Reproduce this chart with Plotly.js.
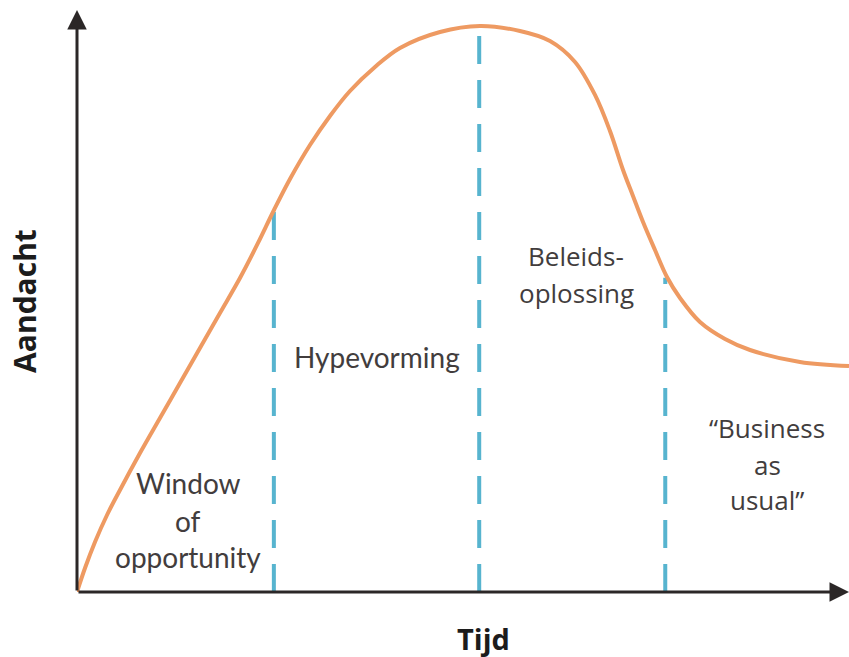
<!DOCTYPE html>
<html><head><meta charset="utf-8">
<script src="https://cdn.plot.ly/plotly-3.0.1.min.js"></script>
<style>html,body{margin:0;padding:0;background:#fff}</style>
</head><body><div id="chart" style="width:849px;height:657px"></div>
<script>
// Attention curve (time 0-100, attention 0-100)
const timeX = [0,1.04,2.33,3.89,5.57,8.16,10.75,13.34,15.93,18.52,21.11,23.45,25.52,27.59,30.18,32.77,35.36,38.60,41.84,47.02,52.20,57.38,61.27,64.51,67.10,69.04,70.73,72.02,73.32,74.87,76.42,78.11,80.70,83.94,87.18,93.65,100];
const attention = [0,4.12,8.59,13.23,17.53,23.88,29.90,35.91,41.92,47.94,53.95,59.97,65.64,70.96,76.80,81.79,86.08,90.21,93.47,96.22,97.25,96.39,94.67,91.07,85.40,79.21,72.51,68.04,63.57,58.76,54.12,50.52,46.39,43.47,41.58,39.52,38.83];

// Phase boundaries (dashed lines)
const phaseX = [25.5, 52.1, 76.2];
const phaseTop = [66.0, 97.1, 54.0];

// Phase labels (one entry per line)
const phaseLabels = [
  ["Window", "of", "opportunity"],
  ["Hypevorming"],
  ["Beleids-", "oplossing"],
  ["\u201cBusiness", "as", "usual\u201d"]
];
const xTitle = "Tijd";
const yTitle = "Aandacht";

// ---- layout helpers (pixel -> data, figure is fixed 849x657) ----
const L = 77, T = 10, B = 65, W = 849, H = 657;
const pw = W - L, ph = H - T - B;
const PX = v => (v - L) / pw * 100;
const PY = v => (H - B - v) / ph * 100;

const traces = [];
phaseX.forEach((x, i) => {
  traces.push({
    x: [x, x], y: [0, phaseTop[i]], mode: 'lines', hoverinfo: 'skip',
    line: {color: '#57b4cf', width: 4, dash: '28px,16px'}
  });
});
traces.push({
  x: timeX, y: attention, mode: 'lines',
  line: {color: '#ee9a62', width: 4, shape: 'spline', smoothing: 1}
});

// label placement (pixel centres)
const labelPos = [
  {x: 188, ys: [483, 521, 557], font: 'Lato', size: 28},
  {x: 377, ys: [357], font: 'Lato', size: 28},
  {x: 576, ys: [256, 293], font: 'Open Sans', size: 26},
  {x: 767, ys: [428, 465, 500], font: 'Open Sans', size: 26}
];
const annotations = [];
phaseLabels.forEach((lines, i) => {
  const p = labelPos[i];
  lines.forEach((t, j) => {
    annotations.push({
      x: PX(p.x), y: PY(p.ys[j]), xref: 'x', yref: 'y', text: t, showarrow: false,
      xanchor: 'center', yanchor: 'middle',
      font: {family: p.font, size: p.size, color: '#423d3d'}
    });
  });
});
// x axis title (placed below the axis, slightly right of centre as in the original)
annotations.push({x: PX(483), y: (H - B - 638) / ph, xref: 'x', yref: 'paper', text: xTitle,
  showarrow: false, xanchor: 'center', yanchor: 'middle',
  font: {family: 'Open Sans', size: 29, color: '#1c1c1c', weight: 700}});
// axis arrows
annotations.push({x: 100, y: 0, ax: 0, ay: 0, xref: 'x', yref: 'y', axref: 'x', ayref: 'y',
  text: '', showarrow: true, arrowhead: 2, arrowsize: 1.3, arrowwidth: 3, arrowcolor: '#2b2727'});
annotations.push({x: 0, y: 100, ax: 0, ay: 0, xref: 'x', yref: 'y', axref: 'x', ayref: 'y',
  text: '', showarrow: true, arrowhead: 2, arrowsize: 1.3, arrowwidth: 3, arrowcolor: '#2b2727'});

const axisCommon = {range: [0, 100], showgrid: false, zeroline: false, showline: false,
  showticklabels: false, ticks: '', fixedrange: true};
const layout = {
  width: W, height: H, margin: {l: L, r: 0, t: T, b: B},
  paper_bgcolor: '#fff', plot_bgcolor: '#fff', showlegend: false,
  xaxis: Object.assign({}, axisCommon),
  yaxis: Object.assign({}, axisCommon, {title: {text: yTitle, standoff: 30,
    font: {family: 'Open Sans', size: 30, color: '#1c1c1c', weight: 700}}}),
  annotations: annotations
};
Plotly.newPlot('chart', traces, layout, {displayModeBar: false, staticPlot: true});
</script></body></html>
